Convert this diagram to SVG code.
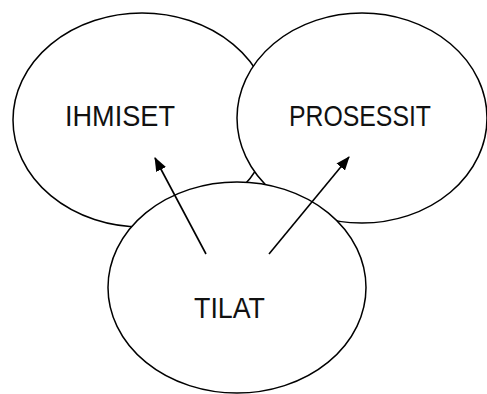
<svg xmlns="http://www.w3.org/2000/svg" width="487" height="394" viewBox="0 0 487 394">
<style>
.n{fill:#fff;stroke:#000;stroke-width:1.5}
.t{font-family:"Liberation Sans",Arial,sans-serif;font-size:30px;fill:#111}
.c{stroke:#000;stroke-width:1.6;fill:none}
</style>
<defs>
<marker id="ah" markerWidth="14" markerHeight="11" refX="13" refY="5.5" orient="auto" markerUnits="userSpaceOnUse" viewBox="0 0 14 11">
<path d="M0,0 L14,5.5 L0,11 z" fill="#000"/>
</marker>
</defs>
<rect width="487" height="394" fill="#fff"/>
<g id="ihmiset">
<ellipse class="n" cx="142" cy="120" rx="129" ry="107"/>
<text class="t" x="65" y="126" textLength="110" lengthAdjust="spacingAndGlyphs">IHMISET</text>
</g>
<g id="prosessit">
<ellipse class="n" cx="362" cy="118" rx="125" ry="105"/>
<text class="t" x="289" y="126" textLength="142" lengthAdjust="spacingAndGlyphs">PROSESSIT</text>
</g>
<g id="tilat">
<ellipse class="n" cx="237" cy="287.5" rx="129" ry="105.5"/>
<text class="t" x="194" y="318" textLength="71" lengthAdjust="spacingAndGlyphs">TILAT</text>
</g>
<g id="connectors">
<line class="c" x1="206" y1="254" x2="155" y2="158" marker-end="url(#ah)"/>
<line class="c" x1="269" y1="254" x2="349" y2="157" marker-end="url(#ah)"/>
</g>
</svg>
